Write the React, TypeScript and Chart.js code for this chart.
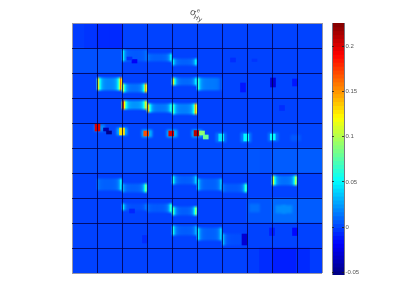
import React, { useEffect, useRef } from "react";
import { Chart, registerables } from "chart.js";

Chart.register(...registerables);

const vMin = -0.053;
const vMax = 0.226;
const colorbarTicks = [-0.05, 0, 0.05, 0.1, 0.15, 0.2];

const cellRow0 = [-0.002, -0.006, 0, 0, 0, 0, 0, 0, 0, 0];
const cellRow1 = [0.004, 0.004, 0, 0, 0, 0, 0, 0, 0, 0];
const cellRow2 = [0, 0, 0, 0, 0, 0, 0, 0, 0, 0];
const cellRow3 = [0, 0, 0, 0, 0, 0, 0, 0, 0, 0];
const cellRow4 = [0.001, 0.001, 0.001, 0.001, 0.001, 0.001, 0.001, 0.001, 0.001, 0.001];
const cellRow5 = [0.003, 0.003, 0.003, 0.003, 0.003, 0.003, 0.003, 0.004, 0.007, 0.007];
const cellRow6 = [0, 0, 0, 0, 0, 0, 0, 0, 0, 0];
const cellRow7 = [0, 0, 0, 0, 0, 0, 0, 0.005, 0.011, 0.007];
const cellRow8 = [0, 0, 0, 0, 0, 0, 0, 0, 0, 0];
const cellRow9 = [0, 0, 0, 0, 0, 0, 0, -0.002, -0.01, -0.002];
const cellRows = [cellRow0, cellRow1, cellRow2, cellRow3, cellRow4, cellRow5, cellRow6, cellRow7, cellRow8, cellRow9];

// half-cell tints
const patchX = [0.75, 1.25, 1.75, 7.75, 9.25, 7.25];
const patchTop = [0, 0, 0, 9, 9, 5];
const patchBottom = [1, 1, 1, 10, 10, 6];
const patchValue = [-0.004, -0.007, -0.007, -0.006, -0.007, 0.005];

// stripe-and-band features, one per cell
const segCol = [2, 3, 4, 1, 2, 4, 5, 2, 3, 4, 1, 2, 4, 5, 6, 8, 2, 3, 4, 4, 5, 6];
const segTop = [1.04, 1.2, 1.4, 2.16, 2.4, 2.16, 2.16, 3.08, 3.2, 3.2, 6.2, 6.4, 6.08, 6.2, 6.4, 6.08, 7.2, 7.2, 7.32, 8.08, 8.16, 8.4];
const segBottom = [1.56, 1.56, 1.72, 2.72, 2.8, 2.52, 2.72, 3.48, 3.6, 3.68, 6.72, 6.8, 6.48, 6.72, 6.8, 6.52, 7.52, 7.6, 7.72, 8.52, 8.72, 8.92];
const segLeft = [0.05, 0.015, 0.05, 0.13, 0.11, 0.13, 0.07, 0.22, 0.15, 0.08, 0.015, 0.03, 0.06, 0.045, 0.015, 0.12, 0.05, 0.012, 0.08, 0.06, 0.05, 0.035];
const segMid = [0.006, 0.008, 0.008, 0.018, 0.012, 0.01, 0.015, 0.022, 0.014, 0.016, 0.008, 0.008, 0.007, 0.008, 0.006, 0.012, 0.003, 0.006, 0.007, 0.007, 0.008, 0.003];
const segRight = [0.012, 0.05, 0.05, 0.18, 0.16, 0.05, 0.003, 0.13, 0.06, 0.16, 0.05, 0.09, 0.04, 0.035, 0.075, 0.11, 0.015, 0.07, 0.1, 0.03, 0.04, 0.002];

// soft halos
const haloX = [1.1, 2.0, 3.0, 4.0, 5.0, 5.96, 6.96, 8.05, 8.95, 8.35, 8.6, 7.3];
const haloTop = [4.08, 4.2, 4.28, 4.28, 4.28, 4.4, 4.4, 4.4, 4.48, 7.3, 7.3, 7.24];
const haloBottom = [4.32, 4.48, 4.56, 4.56, 4.56, 4.76, 4.76, 4.72, 4.72, 7.6, 7.6, 7.56];
const haloValue = [0.02, 0.03, 0.03, 0.03, 0.03, 0.014, 0.016, 0.014, 0.006, 0.02, 0.02, 0.012];

// small spots
const spotX = [1.02, 2.0, 2.97, 3.97, 4.98, 5.2, 5.35, 5.97, 6.97, 8.03, 1.36, 1.48, 2.5, 2.3, 6.44, 7.3, 6.84, 8.04, 8.92, 8.4, 2.4, 2.92, 6.9, 8.0, 8.92];
const spotTop = [4.04, 4.2, 4.32, 4.32, 4.3, 4.32, 4.48, 4.44, 4.44, 4.44, 4.2, 4.32, 1.46, 1.36, 1.4, 1.44, 2.4, 2.2, 2.24, 3.3, 7.44, 8.5, 8.44, 8.2, 8.2];
const spotBottom = [4.32, 4.48, 4.52, 4.52, 4.52, 4.48, 4.64, 4.72, 4.72, 4.68, 4.32, 4.44, 1.6, 1.48, 1.56, 1.54, 2.76, 2.56, 2.52, 3.5, 7.6, 8.8, 8.88, 8.5, 8.5];
const spotValue = [0.2, 0.13, 0.17, 0.2, 0.21, 0.09, 0.08, 0.045, 0.05, 0.05, -0.04, -0.05, -0.02, -0.005, -0.006, -0.004, -0.012, -0.03, -0.012, -0.006, -0.008, -0.006, -0.03, -0.01, -0.016];

const clamp = (n: number) => Math.max(0, Math.min(1, n));
function jet(v: number, a = 1) {
  const t = clamp((v - vMin) / (vMax - vMin));
  const r = Math.round(255 * clamp(1.5 - Math.abs(4 * t - 3)));
  const g = Math.round(255 * clamp(1.5 - Math.abs(4 * t - 2)));
  const b = Math.round(255 * clamp(1.5 - Math.abs(4 * t - 1)));
  return `rgba(${r},${g},${b},${a})`;
}

const softEdges = {
  id: "softEdges",
  beforeDatasetDraw(chart: any, args: any) {
    if (args.index === 0) return;
    chart.ctx.filter = args.index === 4 ? "blur(1.2px)" : args.index === 5 ? "blur(0.4px)" : "blur(0.5px)";
  },
  afterDatasetDraw(chart: any) {
    chart.ctx.filter = "none";
  },
};

const symbolTitle = {
  id: "symbolTitle",
  afterDraw(chart: any) {
    const c = chart.ctx;
    c.save();
    c.translate(190, 12);
    c.rotate((25 * Math.PI) / 180);
    c.fillStyle = "#555";
    c.textBaseline = "alphabetic";
    c.font = '9px "DejaVu Sans"';
    c.fillText("σ", 0, 2);
    c.font = '5.5px "DejaVu Sans"';
    c.fillText("e", 5.5, -3);
    c.font = '6.5px "DejaVu Sans"';
    c.fillText("Hy", 5.5, 4.5);
    c.restore();
  },
};

const segGradient = (alpha: number) => (ctx: any) => {
  const i = ctx.dataIndex;
  if (i === undefined || segCol[i] === undefined) return "rgba(0,0,0,0)";
  const xs = ctx.chart.scales.x;
  const x0 = xs.getPixelForValue(segCol[i]);
  const x1 = xs.getPixelForValue(segCol[i] + 1);
  if (!isFinite(x0) || !isFinite(x1)) return "rgba(0,0,0,0)";
  const g = ctx.chart.ctx.createLinearGradient(x0, 0, x1, 0);
  for (let k = 0; k <= 40; k++) {
    const t = k / 40;
    const v =
      segMid[i] +
      (segLeft[i] - segMid[i]) * Math.exp(-Math.abs(t - 0.05) / 0.07) +
      (segRight[i] - segMid[i]) * Math.exp(-Math.abs(0.95 - t) / 0.07);
    g.addColorStop(t, jet(v, alpha));
  }
  return g;
};

export default function App() {
  const mainRef = useRef<HTMLCanvasElement>(null);
  const barRef = useRef<HTMLCanvasElement>(null);

  useEffect(() => {
    const baseData: any[] = [];
    const baseColors: string[] = [];
    cellRows.forEach((row, r) =>
      row.forEach((v, c) => {
        baseData.push({ x: c + 0.5, y: [r, r + 1] });
        baseColors.push(jet(v));
      })
    );
    const grey = "rgba(150,150,170,1)";
    const edgeColor = (ctx: any) => {
      const v = ctx.tick?.value;
      return v === 0 || v === 10 ? grey : "rgba(0,0,70,0.8)";
    };
    const main = new Chart(mainRef.current!, {
      type: "bar",
      plugins: [softEdges, symbolTitle],
      data: {
        datasets: [
          { data: baseData, backgroundColor: baseColors, barThickness: 25.6, order: 6, grouped: false },
          {
            data: patchX.map((x, i) => ({ x, y: [patchTop[i], patchBottom[i]] })),
            backgroundColor: patchValue.map((v) => jet(v)),
            barThickness: 12.5,
            order: 5,
            grouped: false,
          },
          {
            data: segCol.map((c, i) => ({ x: c + 0.5, y: [segTop[i], segBottom[i]] })),
            backgroundColor: segGradient(0.45),
            barThickness: 25,
            order: 4,
            grouped: false,
          },
          {
            data: segCol.map((c, i) => ({ x: c + 0.5, y: [segTop[i] + 0.07, segBottom[i] - 0.07] })),
            backgroundColor: segGradient(1),
            barThickness: 25,
            order: 3,
            grouped: false,
          },
          {
            data: haloX.map((x, i) => ({ x, y: [haloTop[i], haloBottom[i]] })),
            backgroundColor: haloValue.map((v) => jet(v)),
            barThickness: 10,
            order: 2,
            grouped: false,
          },
          {
            data: spotX.map((x, i) => ({ x, y: [spotTop[i], spotBottom[i]] })),
            backgroundColor: spotValue.map((v) => jet(v)),
            barThickness: 5,
            order: 1,
            grouped: false,
          },
        ] as any,
      },
      options: {
        responsive: false,
        animation: false,
        parsing: { xAxisKey: "x", yAxisKey: "y" },
        layout: { padding: { left: 72, right: 87, top: 23, bottom: 34 } },
        plugins: { legend: { display: false }, tooltip: { enabled: false } },
        scales: {
          x: {
            type: "linear",
            min: 0,
            max: 10,
            offset: false,
            ticks: { display: false, stepSize: 1 },
            grid: { z: 1, color: edgeColor, drawTicks: false, offset: false },
            border: { display: false },
            afterFit: (s: any) => { s.height = 0; },
          },
          y: {
            type: "linear",
            min: 0,
            max: 10,
            reverse: true,
            ticks: { display: false, stepSize: 1 },
            grid: { z: 1, color: edgeColor, drawTicks: false },
            border: { display: false },
            afterFit: (s: any) => { s.width = 0; },
          },
        },
      } as any,
    });

    const slices: any[] = [];
    const sliceColors: string[] = [];
    for (let k = 0; k < 64; k++) {
      const lo = vMin + ((vMax - vMin) * k) / 64;
      const hi = vMin + ((vMax - vMin) * (k + 1)) / 64;
      slices.push({ x: 0.5, y: [lo, hi + 0.0003] });
      sliceColors.push(jet((lo + hi) / 2));
    }
    const bar = new Chart(barRef.current!, {
      type: "bar",
      data: { datasets: [{ data: slices, backgroundColor: sliceColors, barThickness: 12, grouped: false }] as any },
      options: {
        responsive: false,
        animation: false,
        parsing: { xAxisKey: "x", yAxisKey: "y" },
        layout: { padding: { left: 332, right: 44, top: 23, bottom: 32 } },
        plugins: { legend: { display: false }, tooltip: { enabled: false } },
        scales: {
          x: {
            type: "linear",
            min: 0,
            max: 1,
            offset: false,
            ticks: { display: false, stepSize: 1 },
            grid: { z: 1, color: "rgba(120,120,130,1)", drawTicks: false, offset: false },
            border: { display: false },
            afterFit: (s: any) => { s.height = 0; },
          },
          y: {
            type: "linear",
            position: "right",
            min: vMin,
            max: vMax,
            afterBuildTicks: (s: any) => { s.ticks = colorbarTicks.map((value) => ({ value })); },
            afterFit: (s: any) => { s.width = 21; },
            ticks: {
              autoSkip: false,
              padding: 1.5,
              color: "#555",
              font: { family: "Liberation Sans", size: 6 },
              callback: (v: any) => String(v),
            },
            grid: { z: 1, color: "rgba(30,30,30,0.8)", drawTicks: false },
            border: { display: false, dash: [2, 8] },
          },
        },
      } as any,
    });
    return () => {
      main.destroy();
      bar.destroy();
    };
  }, []);

  const abs: React.CSSProperties = { position: "absolute", left: 0, top: 0 };
  return (
    <div style={{ ...abs, width: 409, height: 307, background: "#fff" }}>
      <canvas ref={mainRef} width={409} height={307} style={abs} />
      <canvas ref={barRef} width={409} height={307} style={abs} />
    </div>
  );
}
